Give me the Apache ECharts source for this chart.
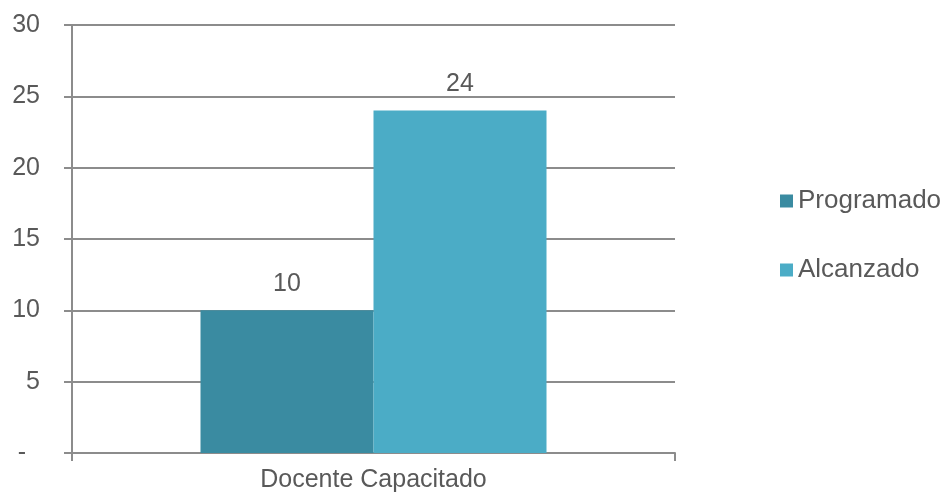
<!DOCTYPE html>
<html>
<head>
<meta charset="utf-8">
<script src="https://cdn.jsdelivr.net/npm/echarts@6/dist/echarts.min.js"></script>
<style>
  html, body { margin: 0; padding: 0; background: #fff; }
  #chart { width: 943px; height: 496px; }
</style>
</head>
<body>
<div id="chart"></div>
<script>
const categories = ['Docente Capacitado']
const programado = [10]
const alcanzado = [24]

const textColor = '#595959'
const lineColor = '#8c8c8c'
const font = 'Arial, "Liberation Sans", sans-serif'

const chart = echarts.init(document.getElementById('chart'))
chart.setOption({
    animation: false,
    textStyle: { fontFamily: font },
    grid: { left: 72, right: 268, top: 25, bottom: 43 },
    legend: {
        orient: 'vertical',
        left: 775,
        top: 183,
        itemWidth: 13,
        itemHeight: 13,
        itemGap: 43,
        icon: 'rect',
        textStyle: { color: textColor, fontSize: 26, lineHeight: 26, fontFamily: font },
        data: ['Programado', 'Alcanzado']
    },
    xAxis: {
        type: 'category',
        data: categories,
        axisLine: { lineStyle: { color: lineColor, width: 2 } },
        axisTick: { show: true, length: 8, lineStyle: { color: lineColor, width: 2 } },
        axisLabel: { color: textColor, fontSize: 25, margin: 15, fontFamily: font }
    },
    yAxis: {
        type: 'value',
        min: 0,
        max: 30,
        interval: 5,
        axisLine: { show: true, lineStyle: { color: lineColor, width: 2 } },
        axisTick: { show: true, length: 8, lineStyle: { color: lineColor, width: 2 } },
        splitLine: { lineStyle: { color: lineColor, width: 2 } },
        axisLabel: {
            color: textColor, fontSize: 25, margin: 32, fontFamily: font,
            // formato contable: el cero se muestra como guion
            formatter: v => v === 0 ? '-  ' : String(v)
        }
    },
    series: [
        {
            name: 'Programado',
            type: 'bar',
            data: programado,
            barWidth: 173,
            barGap: '0%',
            itemStyle: { color: '#3a8ba1' },
            label: { show: true, position: 'top', color: textColor, fontSize: 25, distance: 14, fontFamily: font }
        },
        {
            name: 'Alcanzado',
            type: 'bar',
            data: alcanzado,
            barWidth: 173,
            itemStyle: { color: '#4bacc6' },
            label: { show: true, position: 'top', color: textColor, fontSize: 25, distance: 14, fontFamily: font }
        }
    ]
})
</script>
</body>
</html>
